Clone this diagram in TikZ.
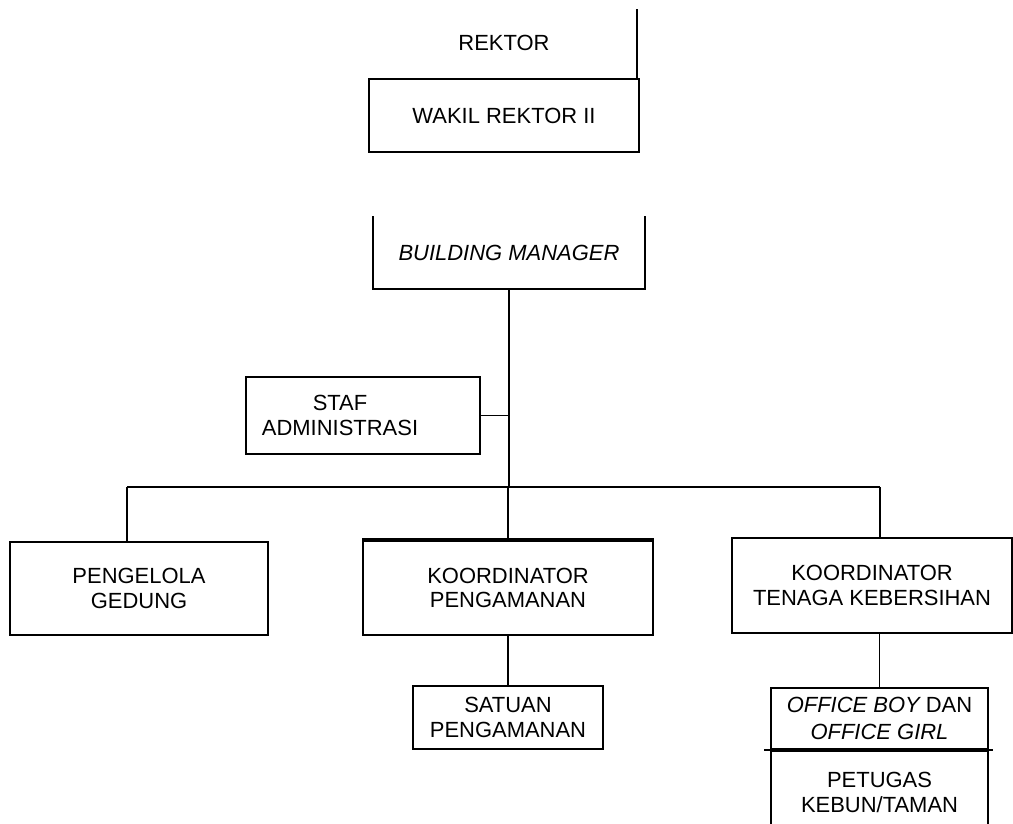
\documentclass[tikz,border=0pt]{standalone}
\usepackage{fontspec}
\setmainfont{Liberation Sans}
\usepackage{tikz}
\usetikzlibrary{positioning}

\begin{document}
\begin{tikzpicture}[
    x=0.02cm, y=-0.02cm,
    line width=1pt,
    font=\fontsize{12.5}{14}\selectfont,
    box/.style={rectangle, draw, align=center, inner sep=0pt},
    link/.style={line width=1pt}
]
    \useasboundingbox (0,0) rectangle (1013,823);

    % top part
    \coordinate (rtop) at (637,9);
    \node (rektor) at (504,43) {REKTOR};
    \node[box, minimum width=5.4cm, minimum height=1.46cm] (wakil) at (504,115.5) {WAKIL REKTOR II};
    \node[align=center, inner sep=0pt, minimum width=5.4cm, minimum height=1.42cm] (bm) at (509,252.5) {\itshape BUILDING MANAGER};
    \draw (bm.north west) -- (bm.south west) -- (bm.south east) -- (bm.north east);
    \draw[link] (rtop) -- (rtop |- wakil.north);

    \node[box, minimum width=4.68cm, minimum height=1.54cm,
        label={[xshift=-0.46cm, align=center]center:STAF\\ADMINISTRASI}] (staf) at (363,415.5) {};

    % junctions
    \coordinate (hub) at (508,487);
    \coordinate (jl) at (127,487);
    \coordinate (jr) at (880,487);

    % second level
    \node[box, minimum width=5.16cm, minimum height=1.86cm] (pg) at (139,588.5) {PENGELOLA\\GEDUNG};
    \node[box, minimum width=5.8cm, minimum height=1.88cm] (kp) at (508,588) {KOORDINATOR\\PENGAMANAN};
    \node[box, minimum width=5.6cm, minimum height=1.9cm] (kt) at (872,585.5) {KOORDINATOR\\TENAGA KEBERSIHAN};
    \draw[line width=2.2pt] (kp.north west) -- (kp.north east);

    % third level
    \node[box, minimum width=3.8cm, minimum height=1.26cm] (sp) at (508,717.5) {SATUAN\\PENGAMANAN};
    \node[box, minimum width=4.34cm, minimum height=1.22cm] (ob) at (879.5,718.5) {\itshape OFFICE BOY\upshape{} DAN\\[1.5pt]\itshape OFFICE GIRL};
    \node[box, minimum width=4.34cm, minimum height=1.66cm, below=0pt of ob] (pt) {PETUGAS\\KEBUN/TAMAN};
    \draw ([xshift=-0.12cm]ob.south west) -- ([xshift=0.08cm]ob.south east);

    % connectors
    \draw[link] (bm.south) -- (bm.south |- hub);
    \draw[link] (staf.east) -- (staf.east -| hub);
    \draw[link] (jl) -- (jr);
    \draw[link] (jl) -- (jl |- pg.north);
    \draw[link] (hub) -- (kp.north);
    \draw[link] (jr) -- (jr |- kt.north);
    \draw[link] (sp.north |- kp.south) -- (sp.north);
    \draw[link] (ob.north |- kt.south) -- (ob.north);
\end{tikzpicture}
\end{document}
